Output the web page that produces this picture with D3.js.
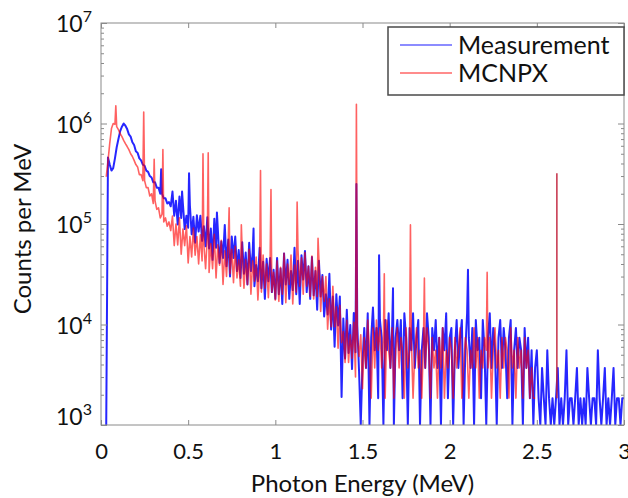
<!DOCTYPE html>
<html>
<head>
<meta charset="utf-8">
<script src="https://cdnjs.cloudflare.com/ajax/libs/d3/7.8.5/d3.min.js"></script>
<style>
  body { margin: 0; background: #fff; }
  text { font-family: Lato, "Open Sans", sans-serif; fill: #111; }
</style>
</head>
<body>
<div id="chart"></div>
<script>
// spectra are binned at 0.01 MeV, first bin at 0.03 MeV
var binStart = 0.03, binWidth = 0.01;

// Measurement, counts per MeV
var measLow = [0, 4.6e5, 3.9e5, 3.4e5, 3.6e5, 4.5e5, 5.8e5, 7.0e5, 8.4e5, 9.3e5,
  1.0e6, 9.5e5, 8.8e5, 7.8e5, 7.4e5, 6.5e5, 6.1e5, 5.3e5, 5.1e5, 4.5e5,
  4.3e5, 3.9e5, 3.8e5, 3.4e5, 3.3e5, 3.0e5, 2.9e5, 2.6e5, 2.6e5, 2.3e5,
  2.3e5, 2.0e5, 2.0e5, 1.8e5, 1.8e5, 1.6e5, 1.65e5, 1.5e5];
var measMid = [2.1e5, 1.21e5, 1.7e5, 9.9e4, 1.88e5, 1.15e5, 1.57e5, 8.9e4, 1.21e5, 9.2e4,
  1.53e5, 7.9e4, 1.18e5, 6.5e4, 1.22e5, 8.4e4, 1.21e5, 6.8e4, 9.5e4, 6.0e4,
  1.17e5, 5.7e4, 9.0e4, 4.4e4, 1.13e5, 5.8e4, 9.0e4, 4.1e4, 6.7e4, 4.6e4,
  9.8e4, 3.8e4, 7.0e4, 3.0e4, 7.5e4, 4.6e4, 7.5e4, 3.4e4, 5.5e4, 2.9e4,
  6.6e4, 3.2e4, 5.2e4, 2.5e4, 6.5e4, 3.4e4, 5.2e4, 2.4e4, 3.9e4, 2.7e4,
  5.8e4, 2.3e4, 4.2e4, 1.8e4, 4.5e4, 2.7e4, 4.6e4, 2.1e4, 3.5e4, 1.8e4];
var measHump = [4.6e4, 2.0e4, 3.6e4, 1.6e4, 5.1e4, 2.5e4, 4.4e4, 1.8e4, 3.4e4, 2.2e4,
  5.8e4, 2.0e4, 4.3e4, 1.6e4, 4.9e4, 2.8e4, 5.4e4, 2.1e4, 3.8e4, 1.8e4,
  4.7e4, 1.95e4, 3.4e4, 1.4e4, 4.3e4, 1.9e4, 3.1e4, 1.2e4, 2.0e4, 1.26e4,
  3.2e4, 8.9e3, 1.9e4, 6.0e3, 2.0e4, 9.8e3, 1.9e4, 1.9e3, 1.15e4, 4.6e3,
  1.4e4, 5.2e3, 9.9e3, 3.6e3, 1.3e4, 5.3e3, 9.9e3, 3.5e3, 0, 4.2e3];
var measTail = [9250, 3700, 12950, 0, 7400, 14800, 5550, 9250, 1850, 11100,
  7400, 0, 11100, 5550, 12950, 3700, 9250, 0, 7400, 11100,
  5550, 11100, 1850, 12950, 7400, 0, 9250, 5550, 12950, 3700,
  7400, 11100, 0, 5550, 9250, 3700, 12950, 7400, 0, 9250,
  5550, 11100, 3700, 7400, 0, 9250, 5550, 12950, 1850, 7400,
  9250, 0, 5550, 11100, 3700, 7400, 11100, 0, 5550, 12950,
  7400, 3700, 9250, 0, 11100, 5550, 7400, 1850, 11100, 5550,
  0, 7400, 12950, 3700, 9250, 5550, 0, 7400, 11100, 3700,
  9250, 5550, 1850, 7400, 11100, 0, 5550, 9250, 3700, 7400,
  5550, 0, 9250, 3700, 7400, 1850, 5550, 0, 3700];
var measEnd = [5550, 1850, 0, 3700, 1850, 0, 5550, 1850, 0, 1850,
  0, 1850, 3700, 0, 1850, 0, 1850, 5550, 0, 1850,
  1850, 0, 1850, 3700, 0, 1850, 0, 1850, 0, 3700,
  1850, 0, 1850, 1850, 0, 5550, 1850, 0, 1850, 3700,
  0, 1850, 0, 1850, 3700, 0, 1850, 1850, 0, 1850, 1850];

// MCNPX, counts per MeV
var mcnpLow = [2.95e5, 4.2e5, 6.3e5, 8.9e5, 1.0e6, 9.8e5, 9.3e5, 8.7e5, 7.9e5, 7.4e5,
  6.8e5, 6.3e5, 5.9e5, 5.5e5, 5.0e5, 4.7e5, 4.3e5, 3.9e5, 3.7e5, 3.1e5,
  3.1e5, 2.7e5, 2.7e5, 2.3e5, 2.3e5, 1.9e5, 2.0e5, 1.6e5, 1.7e5, 1.4e5,
  1.45e5, 1.15e5, 1.25e5, 1.05e5, 1.15e5, 9.5e4, 1.05e5, 8.6e4];
var mcnpMid = [1.2e5, 6.1e4, 1.0e5, 6.2e4, 1.15e5, 5.0e4, 8.9e4, 6.1e4, 9.6e4, 4.1e4,
  7.5e4, 4.7e4, 9.1e4, 4.9e4, 7.5e4, 4.0e4, 7.8e4, 4.3e4, 6.2e4, 3.6e4,
  7.6e4, 3.3e4, 6.4e4, 3.6e4, 7.9e4, 2.9e4, 6.2e4, 3.9e4, 6.9e4, 2.5e4,
  5.4e4, 3.0e4, 6.9e4, 3.2e4, 5.6e4, 2.6e4, 6.0e4, 2.9e4, 4.4e4, 2.4e4,
  5.4e4, 2.3e4, 4.4e4, 2.5e4, 5.6e4, 2.0e4, 4.3e4, 2.7e4, 4.7e4, 1.75e4,
  3.7e4, 2.1e4, 4.9e4, 2.3e4, 4.0e4, 1.85e4, 4.3e4, 2.1e4, 3.3e4, 1.75e4];
var mcnpHump = [4.3e4, 1.7e4, 3.7e4, 2.0e4, 5.1e4, 1.65e4, 4.0e4, 2.5e4, 4.9e4, 1.6e4,
  3.9e4, 2.1e4, 5.5e4, 2.4e4, 4.6e4, 2.0e4, 5.2e4, 2.4e4, 3.8e4, 1.9e4,
  4.8e4, 1.8e4, 3.7e4, 1.9e4, 4.4e4, 1.35e4, 3.0e4, 1.7e4, 3.0e4, 9.0e3,
  1.8e4, 9.5e3, 2.4e4, 9.5e3, 1.5e4, 5.8e3, 1.55e4, 6.6e3, 8.5e3, 4.2e3,
  1.1e4, 4.2e3, 7.9e3, 4.6e3, 1.05e4, 3.0e3, 7.2e3, 4.8e3, 7.9e3, 2.3e3];
var mcnpTail = [7400, 3700, 11100, 5550, 1850, 9250, 3700, 11100, 5550, 9250,
  3700, 7400, 1850, 11100, 5550, 3700, 9250, 1850, 5550, 9250,
  3700, 7400, 5550, 1850, 9250, 3700, 5550, 7400, 1850, 5550,
  9250, 3700, 5550, 1850, 7400, 3700, 9250, 5550, 1850, 7400,
  3700, 5550, 1850, 7400, 3700, 9250, 1850, 5550, 3700, 7400,
  5550, 1850, 7400, 3700, 5550, 9250, 1850, 3700, 7400, 5550,
  1850, 5550, 3700, 9250, 3700, 7400, 1850, 5550, 3700, 7400,
  5550, 3700, 7400, 1850, 5550, 9250, 3700, 5550, 1850, 7400,
  3700, 7400, 5550, 1850, 9250, 3700, 5550, 1850, 7400, 3700,
  5550, 1850, 7400, 3700, 5550, 1850, 3700, 1850, 1850];

// narrow photopeaks [energy MeV, counts per MeV]
var measPeaks = [[0.345, 3.5e5], [0.465, 2.1e5], [0.505, 3.2e5], [0.665, 1.3e5], [0.875, 9.0e4],
  [1.465, 2.5e5], [1.595, 4.9e4], [1.675, 2.3e4], [2.105, 3.5e4]];
var mcnpPeaks = [[0.085, 1.5e6], [0.245, 1.3e6], [0.305, 4.4e5], [0.355, 5.5e5], [0.585, 5.0e5],
  [0.615, 5.1e5], [0.735, 1.45e5], [0.805, 9.8e4], [0.915, 3.4e5], [0.975, 2.2e5],
  [1.125, 1.65e5], [1.245, 7.2e4], [1.465, 1.55e6], [1.625, 3.2e4], [1.775, 9.8e4],
  [1.855, 2.9e4], [2.215, 3.3e4], [2.615, 3.2e5]];

var xTicks = [0, 0.5, 1, 1.5, 2, 2.5, 3];
var yDecades = [1e3, 1e4, 1e5, 1e6, 1e7];
var seriesNames = ["Measurement", "MCNPX"];
var seriesColors = ["#0000ff", "#ff0000"];
var legendColors = ["#8c8cff", "#ff8c8c"];

var margin = { top: 23, right: 4, bottom: 73, left: 101 },
    width = 628 - margin.left - margin.right,
    height = 498 - margin.top - margin.bottom;

var svg = d3.select("#chart")
    .append("svg")
    .attr("width", 628)
    .attr("height", 498)
    .style("background", "#fff");

var g = svg.append("g")
    .attr("transform", "translate(" + margin.left + "," + margin.top + ")");

var x = d3.scaleLinear().domain([0, 3]).range([0, width]);
var y = d3.scaleLog().domain([1e3, 1e7]).range([height, 0]).clamp(true);

// put the bins and the narrow lines together, sorted by energy
function buildSeries(values, peaks) {
    var pts = values.map(function (v, i) { return [binStart + i * binWidth, v]; });
    var last = pts[pts.length - 1][0];
    var inside = peaks.filter(function (p) { return p[0] <= last; });
    return pts.concat(inside).sort(function (a, b) { return a[0] - b[0]; });
}

var meas = buildSeries(measLow.concat(measMid, measHump, measTail, measEnd), measPeaks);
var mcnpValues = mcnpLow.concat(mcnpMid, mcnpHump, mcnpTail);
var mcnp = buildSeries(mcnpValues, mcnpPeaks);
var mcnpLast = binStart + (mcnpValues.length - 1) * binWidth;
var mcnpOutside = mcnpPeaks.filter(function (p) { return p[0] > mcnpLast; });
var mcnpFloor = d3.min(mcnpTail);

g.append("clipPath").attr("id", "clip")
    .append("rect").attr("width", width).attr("height", height);

var line = d3.line()
    .x(function (d) { return x(d[0]); })
    .y(function (d) { return y(d[1]); });

var plot = g.append("g").attr("clip-path", "url(#clip)");

plot.append("path")
    .datum(meas)
    .attr("d", line)
    .attr("fill", "none")
    .attr("stroke", seriesColors[0])
    .attr("stroke-opacity", 0.85)
    .attr("stroke-width", 2)
    .attr("stroke-linejoin", "round");

plot.append("path")
    .datum(mcnp)
    .attr("d", line)
    .attr("fill", "none")
    .attr("stroke", seriesColors[1])
    .attr("stroke-opacity", 0.62)
    .attr("stroke-width", 1.6)
    .attr("stroke-linejoin", "round");

plot.selectAll(".lonePeak")
    .data(mcnpOutside)
    .enter()
    .append("line")
    .attr("x1", function (d) { return x(d[0]); })
    .attr("x2", function (d) { return x(d[0]); })
    .attr("y1", y(mcnpFloor))
    .attr("y2", function (d) { return y(d[1]); })
    .attr("stroke", "#c0203a")
    .attr("stroke-width", 1.4);

// axes: box with inward ticks on all four sides
var axisColor = "#8a8a8a";
var yMinor = [];
yDecades.slice(0, -1).forEach(function (d) {
    d3.range(2, 10).forEach(function (k) { yMinor.push(k * d); });
});

function styleAxis(sel) {
    sel.select(".domain").remove();
    sel.selectAll("line").attr("stroke", axisColor);
}

g.append("g").attr("transform", "translate(0," + height + ")")
    .call(d3.axisBottom(x).tickValues(xTicks).tickSize(-5).tickPadding(18).tickFormat(d3.format("")))
    .call(styleAxis)
    .selectAll("text").attr("font-size", 22).attr("font-family", "Lato, sans-serif").attr("fill", "#111");
g.append("g")
    .call(d3.axisTop(x).tickValues(xTicks).tickSize(-5).tickFormat(""))
    .call(styleAxis);

[[d3.axisLeft, 0], [d3.axisRight, width]].forEach(function (a) {
    g.append("g").attr("transform", "translate(" + a[1] + ",0)")
        .call(a[0](y).tickValues(yDecades).tickSize(-6).tickFormat(""))
        .call(styleAxis);
    g.append("g").attr("transform", "translate(" + a[1] + ",0)")
        .call(a[0](y).tickValues(yMinor).tickSize(-3).tickFormat(""))
        .call(styleAxis);
});

g.append("rect")
    .attr("width", width)
    .attr("height", height)
    .attr("fill", "none")
    .attr("stroke", axisColor)
    .attr("stroke-width", 1);

// y tick labels as 10 with a raised exponent
var yLab = g.selectAll(".ylab")
    .data(yDecades)
    .enter()
    .append("text")
    .attr("x", -9)
    .attr("y", function (d) { return y(d) + (d === yDecades[0] ? 0 : 9); })
    .attr("text-anchor", "end")
    .attr("font-size", 23);
yLab.append("tspan").text("10");
yLab.append("tspan")
    .attr("dy", -10)
    .attr("font-size", 16)
    .text(function (d) { return Math.round(Math.log10(d)); });

// axis titles
g.append("text")
    .attr("transform", "translate(" + (31 - margin.left) + "," + (height / 2 + 5) + ") rotate(-90)")
    .attr("text-anchor", "middle")
    .attr("font-size", 24)
    .text("Counts per MeV");

g.append("text")
    .attr("x", width / 2)
    .attr("y", 492 - margin.top)
    .attr("text-anchor", "middle")
    .attr("font-size", 24)
    .text("Photon Energy (MeV)");

// legend
var legend = svg.append("g").attr("transform", "translate(388,27)");
legend.append("rect")
    .attr("width", 236)
    .attr("height", 68)
    .attr("fill", "#fff")
    .attr("stroke", "#4a4a4a")
    .attr("stroke-width", 1.5);

var entry = legend.selectAll(".entry")
    .data(seriesNames)
    .enter()
    .append("g")
    .attr("transform", function (d, i) { return "translate(0," + (18 + i * 28) + ")"; });
entry.append("line")
    .attr("x1", 12).attr("x2", 64)
    .attr("stroke", function (d, i) { return legendColors[i]; })
    .attr("stroke-width", 2);
entry.append("text")
    .attr("x", 70)
    .attr("y", 8.5)
    .attr("font-family", "'Liberation Sans', Arial, sans-serif")
    .attr("font-size", 25)
    .attr("fill", "#1a1a1a")
    .text(function (d) { return d; });
</script>
</body>
</html>
